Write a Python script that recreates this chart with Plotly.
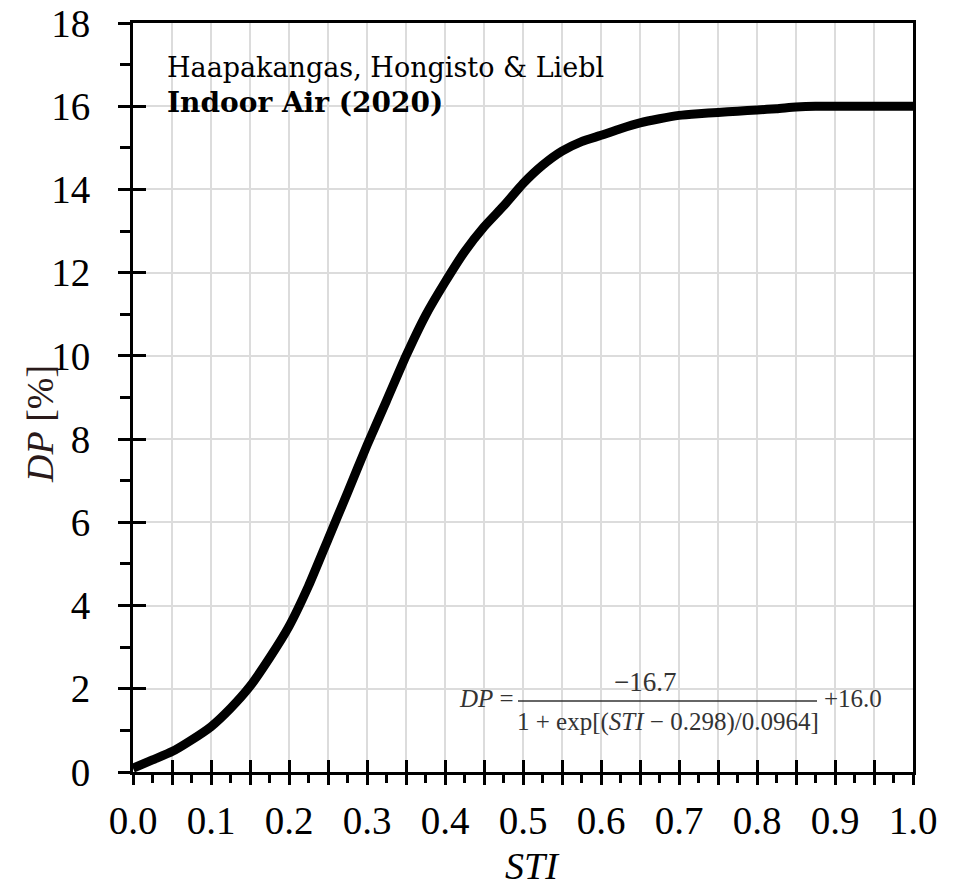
import plotly.graph_objects as go

# ---- data ----
sti = [0.0, 0.025, 0.05, 0.075, 0.1, 0.125, 0.15, 0.175, 0.2, 0.225, 0.25, 0.275,
       0.3, 0.325, 0.35, 0.375, 0.4, 0.425, 0.45, 0.475, 0.5, 0.525, 0.55, 0.575,
       0.6, 0.625, 0.65, 0.675, 0.7, 0.725, 0.75, 0.775, 0.8, 0.825, 0.85, 0.875,
       0.9, 0.95, 1.0]
dp = [0.09, 0.29, 0.49, 0.77, 1.09, 1.53, 2.06, 2.74, 3.50, 4.47, 5.59, 6.71,
      7.85, 8.92, 10.0, 10.97, 11.77, 12.5, 13.1, 13.6, 14.14, 14.58, 14.92, 15.15,
      15.3, 15.46, 15.6, 15.7, 15.78, 15.82, 15.85, 15.88, 15.91, 15.94, 15.98, 16.0,
      16.0, 16.0, 16.0]

x_tickvals = [round(i * 0.05, 2) for i in range(21)]
x_ticktext = [f"{v:.1f}" if i % 2 == 0 else "" for i, v in enumerate(x_tickvals)]
y_tickvals = [0, 2, 4, 6, 8, 10, 12, 14, 16, 18]

# ---- geometry helpers (plot area in pixels) ----
W, H = 953, 890
L, R, T, B = 133, 913, 23, 772


def px(xp):
    return (xp - L) / (R - L)


def py(yp):
    return (B - yp) / (B - T)


SERIF = "Liberation Serif"
fig = go.Figure()
fig.add_trace(go.Scatter(x=sti, y=dp, mode="lines",
                         line=dict(color="black", width=9, shape="spline", smoothing=0.5),
                         hoverinfo="skip", showlegend=False))
# helper trace so the overlay axes (inner tick halves) get drawn
fig.add_trace(go.Scatter(x=[], y=[], xaxis="x2", yaxis="y2", showlegend=False,
                         hoverinfo="skip"))

fig.update_layout(
    width=W, height=H,
    margin=dict(l=L, r=W - R, t=T, b=H - B, autoexpand=False),
    paper_bgcolor="white", plot_bgcolor="white",
    showlegend=False,
    xaxis=dict(range=[0, 1], tickmode="array", tickvals=x_tickvals, ticktext=x_ticktext,
               ticks="outside", ticklen=10, tickwidth=3, tickcolor="black",
               showline=True, linewidth=3, linecolor="black", mirror=True,
               showgrid=True, gridcolor="#dcdcdc", gridwidth=1.5, zeroline=False,
               minor=dict(tickmode="linear", tick0=0, dtick=0.025, ticks="outside",
                          ticklen=8, tickwidth=3, tickcolor="black", showgrid=False),
               tickfont=dict(family=SERIF, size=39, color="black"),
               ticklabelstandoff=2, automargin=False, fixedrange=True),
    yaxis=dict(range=[0, 18], tickmode="array", tickvals=y_tickvals,
               ticks="outside", ticklen=12, tickwidth=3, tickcolor="black",
               showline=True, linewidth=3, linecolor="black", mirror=True,
               showgrid=True, gridcolor="#dcdcdc", gridwidth=1.5, zeroline=False,
               minor=dict(tickmode="linear", tick0=0, dtick=1, ticks="outside",
                          ticklen=10, tickwidth=3, tickcolor="black", showgrid=False),
               tickfont=dict(family=SERIF, size=39, color="black"),
               ticklabelstandoff=20, automargin=False, fixedrange=True),
    xaxis2=dict(range=[0, 1], overlaying="x", anchor="y", side="bottom",
                tickmode="array", tickvals=x_tickvals, ticks="inside", ticklen=12,
                tickwidth=3, tickcolor="black", showticklabels=False,
                showgrid=False, showline=False, zeroline=False, automargin=False,
                fixedrange=True),
    yaxis2=dict(range=[0, 18], overlaying="y", anchor="x", side="left",
                tickmode="array", tickvals=y_tickvals, ticks="inside", ticklen=13,
                tickwidth=3, tickcolor="black", showticklabels=False,
                showgrid=False, showline=False, zeroline=False, automargin=False,
                fixedrange=True),
)

ann = []
# axis titles
ann.append(dict(x=px(532), y=py(866), xref="paper", yref="paper", showarrow=False,
                text="<i>STI</i>", font=dict(family=SERIF, size=38, color="black"),
                xanchor="center", yanchor="middle"))
ann.append(dict(x=px(40), y=py(424), xref="paper", yref="paper", showarrow=False,
                text="<i>DP</i> [%]", textangle=-90,
                font=dict(family=SERIF, size=38, color="#2a1a1a"),
                xanchor="center", yanchor="middle"))
# source text
ann.append(dict(x=px(165), y=py(67), xref="paper", yref="paper", showarrow=False,
                text="Haapakangas, Hongisto &amp; Liebl",
                font=dict(family="DejaVu Serif", size=27, color="black"),
                xanchor="left", yanchor="middle"))
ann.append(dict(x=px(165), y=py(102), xref="paper", yref="paper", showarrow=False,
                text="<b>Indoor Air (2020)</b>",
                font=dict(family="DejaVu Serif", size=28, color="black"),
                xanchor="left", yanchor="middle"))
# formula
fcol = "#333333"
ann.append(dict(x=px(516), y=py(698), xref="paper", yref="paper", showarrow=False,
                text="<i>DP</i> =", font=dict(family=SERIF, size=25, color=fcol),
                xanchor="right", yanchor="middle"))
ann.append(dict(x=px(645), y=py(682), xref="paper", yref="paper", showarrow=False,
                text="\u221216.7", font=dict(family=SERIF, size=27, color=fcol),
                xanchor="center", yanchor="middle"))
ann.append(dict(x=px(668), y=py(722), xref="paper", yref="paper", showarrow=False,
                text="1 + exp[(<i>STI</i> \u2212 0.298)/0.0964]",
                font=dict(family=SERIF, size=25, color=fcol),
                xanchor="center", yanchor="middle"))
ann.append(dict(x=px(822), y=py(698), xref="paper", yref="paper", showarrow=False,
                text="+16.0", font=dict(family=SERIF, size=25, color=fcol),
                xanchor="left", yanchor="middle"))
fig.update_layout(annotations=ann)

fig.update_layout(shapes=[
    dict(type="rect", xref="paper", yref="paper", x0=px(453), x1=px(893),
         y0=py(747), y1=py(658), fillcolor="white", line=dict(width=0),
         layer="between"),
    dict(type="line", xref="paper", yref="paper", x0=px(518), x1=px(817),
         y0=py(701), y1=py(701), line=dict(color=fcol, width=1.5), layer="above"),
])

fig.write_html("out.html")
